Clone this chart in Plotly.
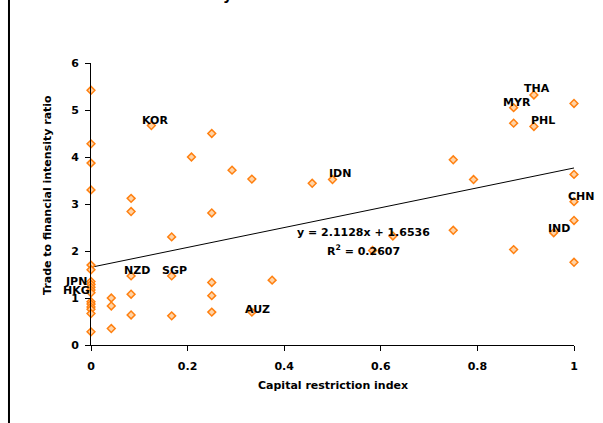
import plotly.graph_objects as go

# ---- data ----
restriction_index = [
    0, 0, 0, 0, 0, 0, 0, 0, 0, 0, 0, 0, 0, 0, 0, 0, 0,
    0.042, 0.042, 0.042,
    0.083, 0.083, 0.083, 0.083, 0.083,
    0.125,
    0.167, 0.167, 0.167,
    0.208,
    0.25, 0.25, 0.25, 0.25, 0.25,
    0.292,
    0.333, 0.333,
    0.375,
    0.458,
    0.5,
    0.583,
    0.625,
    0.75, 0.75,
    0.792,
    0.875, 0.875, 0.875,
    0.917, 0.917,
    0.958,
    1, 1, 1, 1, 1,
]
trade_fin_ratio = [
    5.42, 4.28, 3.87, 3.30, 1.70, 1.60, 1.35, 1.29, 1.23, 1.17, 1.11, 0.92, 0.87, 0.81, 0.76, 0.67, 0.28,
    1.00, 0.83, 0.35,
    3.12, 2.84, 1.47, 1.08, 0.64,
    4.67,
    2.30, 1.47, 0.62,
    4.00,
    4.50, 2.81, 1.33, 1.05, 0.70,
    3.72,
    3.53, 0.70,
    1.38,
    3.44,
    3.52,
    2.01,
    2.32,
    3.94, 2.44,
    3.52,
    5.05, 4.72, 2.03,
    5.32, 4.65,
    2.39,
    5.14, 3.63, 3.05, 2.65, 1.76,
]

label_names = ["KOR", "THA", "MYR", "PHL", "IDN", "CHN", "IND", "NZD", "SGP", "AUZ", "JPN", "HKG"]
label_x = [0.125, 0.917, 0.875, 0.917, 0.5, 1, 0.958, 0.083, 0.167, 0.333, 0, 0]
label_y = [4.67, 5.32, 5.05, 4.65, 3.52, 3.05, 2.39, 1.47, 1.47, 0.70, 1.35, 1.17]
# pixel offsets of each label from its point
label_dx = [4, 3, 3, 9, 7, 7, 5, 6, 3, 6, -15, -15]
label_dy = [5, 6, 5, 6, 6, 5, 4, 5, 5, 3, 0, 0]

trend_slope = 2.1128
trend_intercept = 1.6536
r_squared = 0.2607

x_ticks = [0, 0.2, 0.4, 0.6, 0.8, 1]
y_ticks = [0, 1, 2, 3, 4, 5, 6]

# ---- figure ----
fig = go.Figure()

tx = [min(restriction_index), max(restriction_index)]
ty = [trend_slope * v + trend_intercept for v in tx]
fig.add_trace(go.Scatter(
    x=tx, y=ty, mode="lines",
    line=dict(color="black", width=1),
    hoverinfo="skip", showlegend=False,
))

fig.add_trace(go.Scatter(
    x=restriction_index, y=trade_fin_ratio, mode="markers",
    marker=dict(symbol="diamond", size=6, color="#FFD3A6",
                line=dict(color="#FF8010", width=1.5)),
    cliponaxis=False, showlegend=False,
))

annotations = []
for name, lx, ly, dx, dy in zip(label_names, label_x, label_y, label_dx, label_dy):
    annotations.append(dict(
        x=lx, y=ly, xref="x", yref="y", text=name, showarrow=False,
        xanchor="center", yanchor="middle",
        xshift=dx, yshift=dy, font=dict(size=11, color="black"),
    ))

annotations.append(dict(
    x=0.5646, y=2.398, xref="x", yref="y", showarrow=False,
    xanchor="center", yanchor="middle",
    text=f"y = {trend_slope}x + {trend_intercept}",
    font=dict(size=11, color="black"),
))
annotations.append(dict(
    x=0.5646, y=2.006, xref="x", yref="y", showarrow=False,
    xanchor="center", yanchor="middle",
    text=f"R<sup>2</sup> = {r_squared}",
    font=dict(size=11, color="black"),
))

# axis titles
annotations.append(dict(
    x=0.5, y=-0.1443, xref="paper", yref="paper", showarrow=False,
    xanchor="center", yanchor="middle",
    text="Capital restriction index", font=dict(size=11, color="black"),
))
annotations.append(dict(
    x=-0.089, y=0.532, xref="paper", yref="paper", showarrow=False,
    xanchor="center", yanchor="middle",
    text="Trade to financial intensity ratio", textangle=-90,
    font=dict(size=11, color="black"),
))
# cut-off chart title fragment at the top
annotations.append(dict(
    x=0.2836, y=1.205, xref="paper", yref="paper", showarrow=False,
    xanchor="center", yanchor="bottom",
    text="y", font=dict(size=14, color="black"),
))

fig.update_layout(
    width=603, height=423,
    margin=dict(l=91, r=29, t=63, b=78),
    paper_bgcolor="white", plot_bgcolor="white",
    font=dict(family="DejaVu Sans", size=11, color="black", weight="bold"),
    annotations=annotations,
    shapes=[dict(
        type="line", xref="paper", yref="paper",
        x0=-0.1698, x1=-0.1698, y0=-0.3, y1=1.3,
        line=dict(color="black", width=2),
    )],
    xaxis=dict(
        range=[0, 1], tickvals=x_ticks, showgrid=False, zeroline=False,
        showline=True, linecolor="black", linewidth=1,
        ticks="outside", ticklen=5, tickcolor="black",
        ticklabelstandoff=6,
        tickfont=dict(size=11, color="black"),
    ),
    yaxis=dict(
        range=[0, 6], tickvals=y_ticks, showgrid=False, zeroline=False,
        showline=True, linecolor="black", linewidth=1,
        ticks="outside", ticklen=5, tickcolor="black",
        ticklabelstandoff=4,
        tickfont=dict(size=11, color="black"),
    ),
)

fig.write_html(
    "out.html",
    config={"displayModeBar": False},
    post_script="document.body.style.margin='0';document.body.style.overflow='hidden';",
)
